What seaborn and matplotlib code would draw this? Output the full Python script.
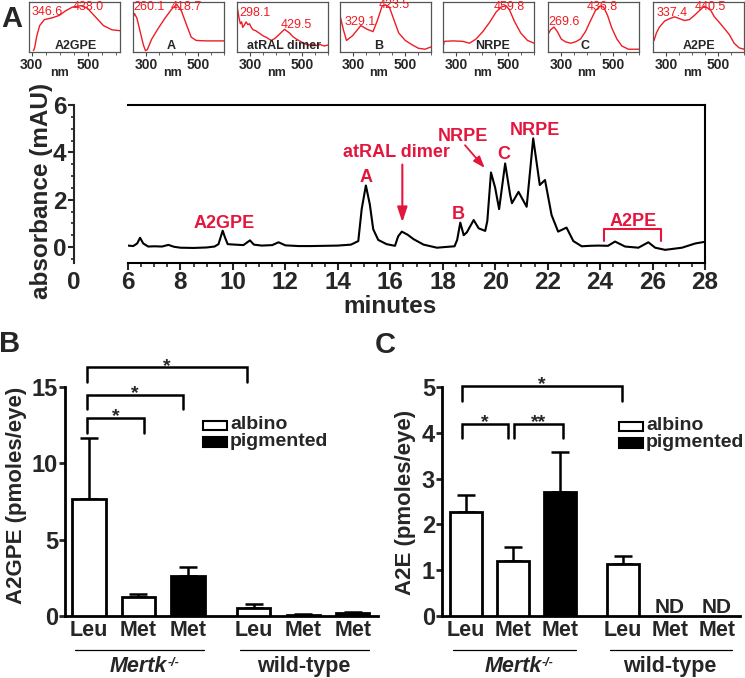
import numpy as np
import pandas as pd
import matplotlib
matplotlib.use("Agg")
import matplotlib.pyplot as plt
import matplotlib.transforms as mtransforms
from matplotlib.patches import Rectangle
import seaborn as sns

# ---------------- data ----------------
# HPLC chromatogram (minutes, mAU)
chrom_time = [6.0, 6.2, 6.35, 6.46, 6.58, 6.77, 7.0, 7.3, 7.54, 7.75, 8.0, 8.5, 9.0, 9.3,
              9.45, 9.61, 9.7, 9.8, 10.08, 10.4, 10.65, 10.8, 11.1, 11.5, 11.74, 12.0,
              12.5, 13.0, 13.5, 14.0, 14.5, 14.78, 14.91, 15.07, 15.22, 15.35, 15.54,
              15.86, 16.18, 16.3, 16.44, 16.66, 16.89, 17.27, 17.78, 18.1, 18.45, 18.55,
              18.67, 18.8, 18.92, 19.18, 19.37, 19.62, 19.7, 19.84, 20.0, 20.15, 20.38,
              20.57, 20.64, 20.89, 21.2, 21.45, 21.7, 21.9, 22.15, 22.4, 22.72, 22.98,
              23.3, 23.6, 23.93, 24.3, 24.57, 24.95, 25.46, 25.84, 26.1, 26.48, 27.12,
              27.63, 28.0]
chrom_abs = [0.06, 0.04, 0.15, 0.39, 0.15, 0.02, 0.03, 0.02, 0.09, 0.01, -0.03, -0.04, -0.02, 0.02,
             0.12, 0.69, 0.40, 0.12, 0.10, 0.08, 0.28, 0.10, 0.06, 0.08, 0.20, 0.07,
             0.04, 0.04, 0.05, 0.06, 0.10, 0.25, 1.60, 2.60, 1.80, 0.75, 0.30,
             0.12, 0.05, 0.45, 0.65, 0.52, 0.33, 0.10, -0.03, 0.00, 0.03, 0.30,
             1.03, 0.50, 0.62, 1.14, 0.79, 0.68, 1.10, 3.15, 2.50, 1.60, 3.53,
             2.20, 1.85, 2.33, 1.70, 4.59, 2.62, 2.83, 1.35, 0.65, 0.82, 0.25,
             0.03, 0.05, 0.06, 0.05, 0.23, 0.02, -0.03, 0.20, -0.03, -0.12, -0.03,
             0.15, 0.22]

# UV-vis spectra of peaks (nm, relative absorbance)
spec_names = ["A2GPE", "A", "atRAL dimer", "B", "NRPE", "C", "A2PE"]
spec_peaks = [["346.6", "438.0"], ["260.1", "418.7"], ["298.1", "429.5"],
              ["329.1", "423.5"], ["459.8"], ["269.6", "436.8"], ["337.4", "440.5"]]
a2gpe_nm = [306, 310, 318, 328, 345, 374, 398, 421, 445, 474, 498, 527, 556, 586, 615]
a2gpe_abs = [0.0, 0.06, 0.32, 0.54, 0.67, 0.71, 0.76, 0.86, 0.94, 0.97, 0.92, 0.73, 0.54, 0.45, 0.43]
cmpA_nm = [250, 256, 265, 278, 290, 298, 305, 322, 347, 373, 398, 418, 436, 455, 474, 493, 530, 600]
cmpA_abs = [0.72, 0.80, 0.70, 0.40, 0.12, 0.0, 0.02, 0.25, 0.48, 0.70, 0.89, 1.0, 0.86, 0.57, 0.29, 0.22, 0.21, 0.21]
atral_nm = [252, 258, 263, 268, 272, 278, 285, 292, 298, 305, 312, 322, 335, 350, 365, 381, 395,
            407, 418, 425, 433, 440, 452, 465, 478, 494, 510, 525, 540, 555, 570, 585, 600]
atral_abs = [0.90, 0.70, 0.58, 0.62, 0.50, 0.55, 0.62, 0.56, 0.58, 0.50, 0.45, 0.43, 0.38, 0.32, 0.28,
             0.22, 0.26, 0.32, 0.38, 0.42, 0.46, 0.43, 0.38, 0.30, 0.25, 0.20, 0.15, 0.12, 0.14,
             0.11, 0.13, 0.10, 0.12]
cmpB_nm = [250, 263, 275, 298, 330, 355, 377, 393, 412, 425, 440, 457, 476, 501, 526, 552, 577, 600]
cmpB_abs = [0.76, 0.45, 0.22, 0.32, 0.54, 0.46, 0.41, 0.64, 0.96, 0.99, 0.94, 0.67, 0.38, 0.22, 0.13, 0.05, 0.03, 0.08]
nrpe_nm = [250, 255, 288, 326, 352, 377, 403, 428, 454, 473, 492, 505, 524, 549, 575, 600]
nrpe_abs = [0.08, 0.20, 0.21, 0.20, 0.16, 0.25, 0.41, 0.60, 0.83, 0.94, 0.97, 0.89, 0.64, 0.38, 0.22, 0.16]
cmpC_nm = [250, 260, 273, 286, 301, 317, 337, 356, 375, 394, 413, 432, 449, 464, 479, 496, 515, 534, 559, 600]
cmpC_abs = [0.35, 0.45, 0.51, 0.41, 0.25, 0.19, 0.16, 0.19, 0.25, 0.41, 0.64, 0.86, 0.96, 0.94, 0.76,
            0.48, 0.25, 0.10, 0.03, 0.03]
a2pe_nm = [254, 263, 275, 295, 314, 333, 352, 371, 390, 409, 428, 447, 460, 473, 486, 505, 524,
           543, 562, 581, 600]
a2pe_abs = [0.22, 0.38, 0.51, 0.64, 0.69, 0.73, 0.69, 0.65, 0.67, 0.76, 0.86, 0.96, 0.92, 0.86,
            0.73, 0.61, 0.48, 0.35, 0.16, 0.06, 0.03]

# Bar charts
bar_labels = ["Leu", "Met", "Met", "Leu", "Met", "Met"]
bar_groups = ["Mertk", "Mertk", "Mertk", "wild-type", "wild-type", "wild-type"]
bar_pigment = ["albino", "albino", "pigmented", "albino", "albino", "pigmented"]
a2gpe_mean = [7.65, 1.22, 2.62, 0.52, 0.08, 0.18]
a2gpe_sem = [4.0, 0.23, 0.60, 0.28, 0.02, 0.05]
a2e_mean = [2.28, 1.21, 2.70, 1.13, np.nan, np.nan]
a2e_sem = [0.37, 0.30, 0.87, 0.18, np.nan, np.nan]

# ---------------- style ----------------
sns.set_style("ticks")
plt.rcParams["font.family"] = ["Liberation Sans", "DejaVu Sans"]
plt.rcParams["font.weight"] = "bold"
plt.rcParams["axes.labelweight"] = "bold"

W, H = 745, 678
fig = plt.figure(figsize=(W / 100, H / 100), dpi=100)


def fx(px):
    return px / W


def fy(py):
    return 1 - py / H


RED = "#E3173E"
SPEC_RED = "#EE1C24"

# ---------------- insets ----------------
spectra = [(a2gpe_nm, a2gpe_abs), (cmpA_nm, cmpA_abs), (atral_nm, atral_abs),
           (cmpB_nm, cmpB_abs), (nrpe_nm, nrpe_abs), (cmpC_nm, cmpC_abs), (a2pe_nm, a2pe_abs)]
inset_lefts = [29, 133, 237, 340, 443, 548, 653]
inset_xlims = [(290, 615)] + [(250, 600)] * 6
peak_pos = [[(0.03, 0.80), (0.48, 0.90)], [(0.0, 0.90), (0.415, 0.90)],
            [(0.03, 0.77), (0.485, 0.55)], [(0.05, 0.60), (0.43, 0.95)],
            [(0.56, 0.90)], [(0.0, 0.60), (0.43, 0.90)], [(0.04, 0.77), (0.455, 0.90)]]
name_x = [0.51, 0.42, 0.52, 0.43, 0.55, 0.41, 0.51]
for i in range(7):
    axi = fig.add_axes([fx(inset_lefts[i]), fy(52), fx(91), 50 / H])
    sns.lineplot(x=spectra[i][0], y=spectra[i][1], ax=axi, color=SPEC_RED, lw=1.0,
                 estimator=None, sort=False)
    axi.set_xlim(*inset_xlims[i])
    axi.set_ylim(-0.03, 1.05)
    axi.set_yticks([])
    axi.set_xticks([300, 500])
    axi.set_xticklabels(["300", "500"], fontsize=10, fontweight="bold")
    axi.set_xticks([350, 400, 450, 550, 600], minor=True)
    axi.tick_params(axis="x", which="major", length=3, width=0.8, pad=1.5, color="#444444")
    axi.tick_params(axis="x", which="minor", length=1.8, width=0.6, color="#444444")
    axi.set_xlabel("")
    axi.set_ylabel("")
    for s in axi.spines.values():
        s.set_color("#555555")
        s.set_linewidth(0.9)
    for lab, (px, py) in zip(spec_peaks[i], peak_pos[i]):
        axi.text(px, py, lab, transform=axi.transAxes, color=SPEC_RED, fontsize=9,
                 fontweight="normal", ha="left", va="center", clip_on=False)
    axi.text(name_x[i], 0.12, spec_names[i], transform=axi.transAxes, fontsize=9,
             fontweight="bold", ha="center", va="center")
    trans = mtransforms.blended_transform_factory(axi.transData, axi.transAxes)
    axi.text(400, -0.42, "nm", transform=trans, fontsize=9, fontweight="bold",
             ha="center", va="center")

# ---------------- chromatogram ----------------
ax = fig.add_axes([fx(128), fy(263), fx(577), (263 - 105) / H])
sns.lineplot(x=chrom_time, y=chrom_abs, ax=ax, color="black", lw=1.5, estimator=None, sort=False)
ax.set_xlim(6, 28)
ax.set_ylim(-0.676, 6)
ax.spines["left"].set_visible(False)
for s in ["top", "right", "bottom"]:
    ax.spines[s].set_linewidth(1.5)
    ax.spines[s].set_color("black")
ax.set_yticks([])
ax.set_xticks(np.arange(6, 29, 2))
ax.set_xticklabels([str(v) for v in range(6, 29, 2)], fontsize=17.5, fontweight="bold")
ax.set_xticks(np.arange(6, 28.01, 0.5), minor=True)
ax.tick_params(axis="x", which="major", length=5, width=1.5, pad=0.5)
ax.tick_params(axis="x", which="minor", length=3, width=1.2)
ax.set_xlabel("")
ax.set_ylabel("")

axy = fig.add_axes([fx(74), fy(263), 0.0001, (263 - 105) / H])
axy.set_ylim(-0.676, 6)
axy.set_xlim(0, 1)
for s in ["top", "right", "bottom"]:
    axy.spines[s].set_visible(False)
axy.spines["left"].set_linewidth(1.5)
axy.set_yticks([0, 2, 4, 6])
axy.set_yticklabels(["0", "2", "4", "6"], fontsize=17.5, fontweight="bold")
axy.set_yticks(np.arange(-0.5, 6.01, 0.5), minor=True)
axy.tick_params(axis="y", which="major", length=4.5, width=1.5, pad=1)
axy.tick_params(axis="y", which="minor", length=2.5, width=1.2)
axy.set_xticks([0])
axy.set_xticklabels(["0"], fontsize=17.5, fontweight="bold")
axy.tick_params(axis="x", length=0, pad=5.5)
axy.patch.set_visible(False)

fig.text(fx(42), fy(191), "absorbance (mAU)", rotation=90, fontsize=17.5, fontweight="bold",
         ha="center", va="center")
fig.text(fx(390), fy(313), "minutes", fontsize=17.5, fontweight="bold", ha="center",
         va="baseline")

# peak annotations
ann = dict(color=RED, fontsize=13, fontweight="bold", ha="center", va="baseline")
ax.text(9.66, 0.79, "A2GPE", **ann)
ax.text(15.07, 2.76, "A", **ann)
ax.text(16.24, 3.82, "atRAL dimer", **ann)
ax.text(18.6, 1.18, "B", **ann)
ax.text(18.78, 4.48, "NRPE", **ann)
ax.text(20.34, 3.72, "C", **ann)
ax.text(21.5, 4.73, "NRPE", **ann)
ax.text(25.25, 0.89, "A2PE", **ann)
ax.annotate("", xy=(16.46, 0.93), xytext=(16.46, 3.6),
            arrowprops=dict(arrowstyle="-|>,head_length=0.9,head_width=0.3", color=RED, lw=1.5))
ax.annotate("", xy=(19.67, 3.25), xytext=(18.78, 4.39),
            arrowprops=dict(arrowstyle="-|>,head_length=0.7,head_width=0.25", color=RED, lw=1.3))
ax.plot([24.16, 24.16, 26.31, 26.31], [0.27, 0.76, 0.76, 0.27], color=RED, lw=1.5)

fig.text(fx(12), fy(26.7), "A", fontsize=21, fontweight="bold", ha="center", va="baseline")

# ---------------- bar charts ----------------
group_index = {"Mertk": 0, "wild-type": 1}
positions = [i + 0.33 * group_index[g] for i, g in enumerate(bar_groups)]
palette = {"albino": "white", "pigmented": "black"}


def draw_bars(ax, mean, sem, xlim, ylim, yticks):
    df = pd.DataFrame({"pos": positions, "value": mean, "err": sem, "pigment": bar_pigment})
    d = df.dropna()
    sns.barplot(data=d, x="pos", y="value", hue="pigment", palette=palette, native_scale=True,
                width=0.67, dodge=False, edgecolor="black", linewidth=2, errorbar=None,
                legend=False, ax=ax, zorder=3)
    ax.errorbar(d["pos"], d["value"], yerr=[np.zeros(len(d)), d["err"]], fmt="none",
                ecolor="black", elinewidth=1.8, capsize=6.5, capthick=1.8, zorder=2)
    ax.set_xlim(*xlim)
    ax.set_ylim(*ylim)
    ax.set_yticks(yticks)
    ax.set_yticklabels([str(v) for v in yticks], fontsize=17, fontweight="bold")
    ax.set_xticks(positions)
    ax.set_xticklabels(bar_labels, fontsize=15.5, fontweight="bold")
    ax.tick_params(axis="x", length=0, pad=3)
    ax.tick_params(axis="y", length=4, width=2, pad=1)
    for s in ["top", "right"]:
        ax.spines[s].set_visible(False)
    for s in ["left", "bottom"]:
        ax.spines[s].set_linewidth(2)
        ax.spines[s].set_color("black")
    ax.set_xlabel("")
    ax.set_ylabel("")
    trans = mtransforms.blended_transform_factory(ax.transData, ax.transAxes)
    for g in ["Mertk", "wild-type"]:
        idx = [i for i, gg in enumerate(bar_groups) if gg == g]
        x0 = positions[idx[0]] - 0.28
        x1 = positions[idx[-1]] + 0.33
        xc = (positions[idx[0]] + positions[idx[-1]]) / 2
        ax.plot([x0, x1], [-0.148, -0.148], transform=trans, color="black", lw=0.9, clip_on=False)
        if g == "Mertk":
            t = ax.text(xc, -0.22, "Mertk", transform=trans, ha="center", va="center",
                        fontsize=15.5, fontweight="bold", style="italic")
            ax.annotate("-/-", xy=(1.0, 0.95), xycoords=t, ha="left", va="top", fontsize=9,
                        fontweight="bold", style="italic")
        else:
            ax.text(xc, -0.22, g, transform=trans, ha="center", va="center",
                    fontsize=15.5, fontweight="bold")


def bracket(ax, x0, x1, ytop, ybot, label):
    ax.plot([x0, x0, x1, x1], [ybot, ytop, ytop, ybot], color="black", lw=1.8, clip_on=False,
            solid_joinstyle="miter")
    ax.annotate(label, xy=((x0 + x1) / 2, ytop), xytext=(0, -2.5), textcoords="offset points",
                ha="center", va="baseline", fontsize=14, fontweight="bold", annotation_clip=False)


def legend(ax_left_px, top_px):
    fig.patches.append(Rectangle((fx(ax_left_px), fy(top_px + 9)), fx(24), 9 / H,
                                 transform=fig.transFigure, facecolor="white",
                                 edgecolor="black", lw=1.5))
    fig.patches.append(Rectangle((fx(ax_left_px), fy(top_px + 26)), fx(24), 10 / H,
                                 transform=fig.transFigure, facecolor="black",
                                 edgecolor="black", lw=1.5))
    fig.text(fx(ax_left_px + 27), fy(top_px + 8), "albino", fontsize=14, fontweight="bold",
             ha="left", va="baseline")
    fig.text(fx(ax_left_px + 27), fy(top_px + 25), "pigmented", fontsize=14,
             fontweight="bold", ha="left", va="baseline")


# Panel B
axB = fig.add_axes([fx(65), fy(616), fx(313), 229 / H])
draw_bars(axB, a2gpe_mean, a2gpe_sem, (-0.485, 5.84), (0, 15), [0, 5, 10, 15])
bracket(axB, -0.04, 3.19, 16.3, 15.3, "*")
bracket(axB, -0.04, 1.90, 14.47, 13.56, "*")
bracket(axB, -0.04, 1.11, 12.97, 11.98, "*")
legend(203, 421)
fig.text(fx(17), fy(495), "A2GPE (pmoles/eye)", rotation=90, fontsize=16, fontweight="bold",
         ha="center", va="center")
fig.text(fx(10), fy(352), "B", fontsize=21, fontweight="bold", ha="center", va="baseline")

# Panel C
axC = fig.add_axes([fx(442), fy(616), fx(298), 229 / H])
draw_bars(axC, a2e_mean, a2e_sem, (-0.51, 5.82), (0, 5), [0, 1, 2, 3, 4, 5])
bracket(axC, -0.08, 3.31, 5.02, 4.69, "*")
bracket(axC, -0.08, 0.89, 4.19, 3.89, "*")
bracket(axC, 1.02, 2.06, 4.19, 3.89, "**")
for p, m in zip(positions, a2e_mean):
    if np.isnan(m):
        axC.annotate("ND", xy=(p, 0), xytext=(0, 2), textcoords="offset points", ha="center",
                     va="baseline", fontsize=15, fontweight="bold")
legend(619, 422)
fig.text(fx(405), fy(502), "A2E (pmoles/eye)", rotation=90, fontsize=16, fontweight="bold",
         ha="center", va="center")
fig.text(fx(385), fy(353), "C", fontsize=21, fontweight="bold", ha="center", va="baseline")

fig.savefig("out.png", dpi=100)
